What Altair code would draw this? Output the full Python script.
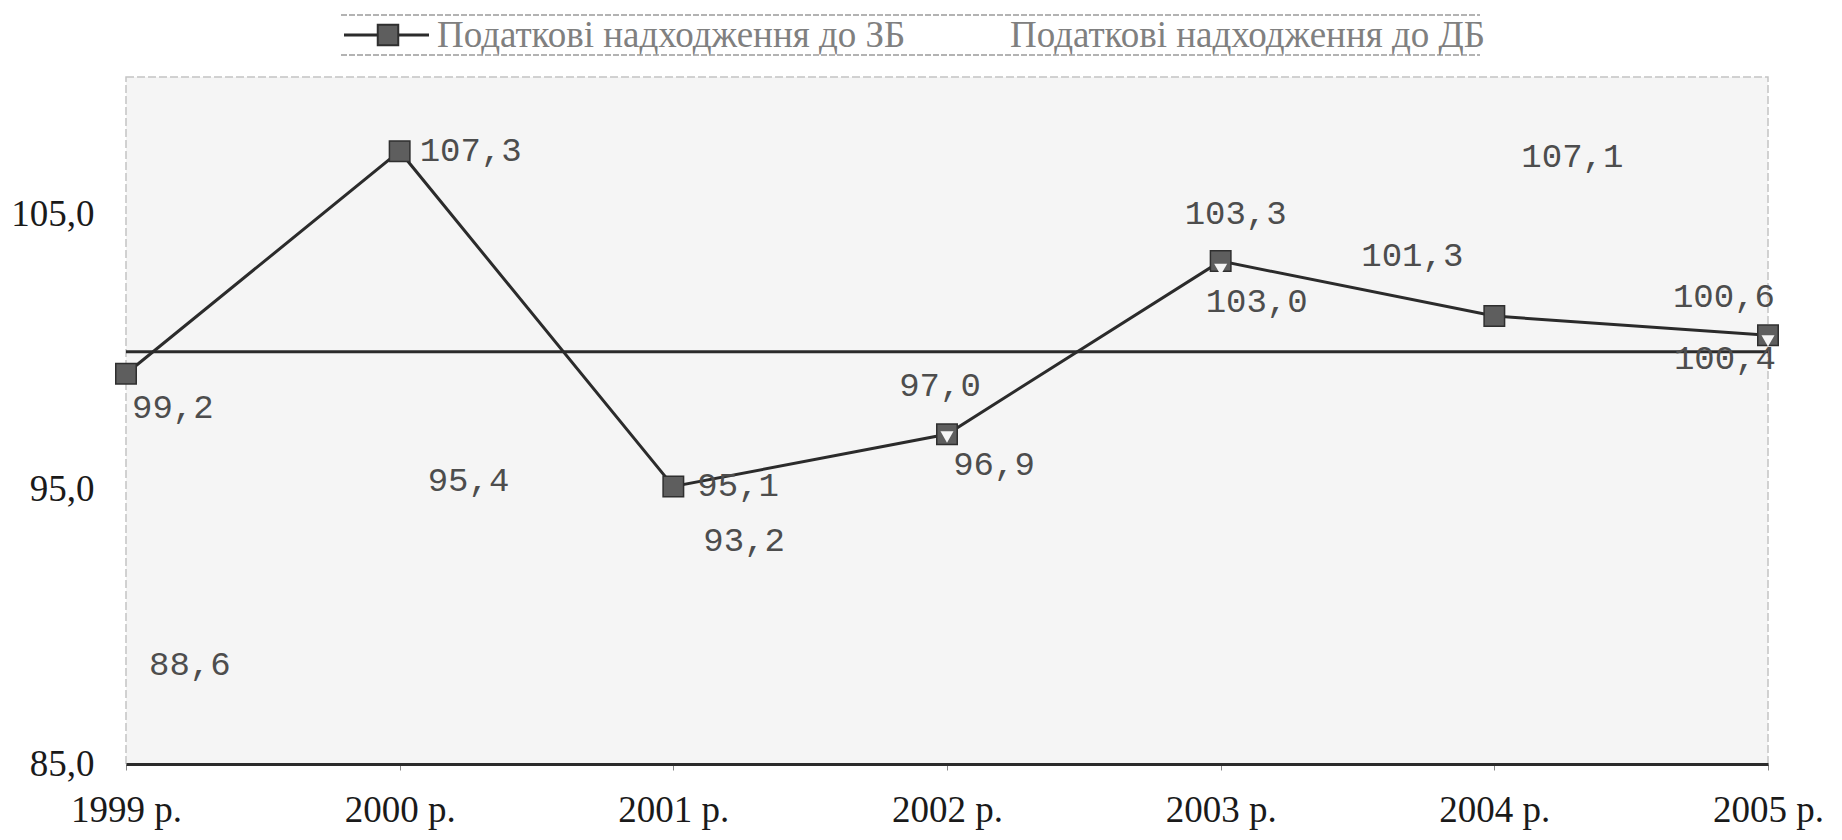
import altair as alt
import pandas as pd

years = ["1999 р.", "2000 р.", "2001 р.", "2002 р.", "2003 р.", "2004 р.", "2005 р."]
zb_values = [99.2, 107.3, 95.1, 97.0, 103.3, 101.3, 100.6]
db_values = [88.6, 95.4, 93.2, 96.9, 103.0, 107.1, 100.4]
series_names = ["Податкові надходження до ЗБ", "Податкові надходження до ДБ"]
y_ticks = [85, 95, 105]
ref_value = [100]

rows = []
for i, y in enumerate(years):
    rows.append({"year": y, "idx": i, "series": "ZB", "v": zb_values[i]})
    rows.append({"year": y, "idx": i, "series": "DB", "v": db_values[i]})
df = pd.DataFrame(rows)

BG = "#f5f5f5"
DARK = "#2b2b2b"
LBL = "#4d4d4d"
SERIF = "Liberation Serif"
MONO = "Liberation Mono"

x_enc = alt.X("year:N", sort=years, scale=alt.Scale(padding=0),
              axis=alt.Axis(title=None, labelAngle=0, labelFont=SERIF, labelFontSize=37,
                            labelColor="#1a1a1a", domainColor=DARK, domainWidth=3,
                            tickColor="#888", tickSize=6, labelPadding=22, grid=False))
y_scale = alt.Scale(domain=[85, 110], nice=False, zero=False)
y_axis = alt.Axis(title=None, values=y_ticks, labelFont=SERIF, labelFontSize=37,
                  labelColor="#1a1a1a", domain=False, ticks=False, grid=False,
                  labelPadding=32,
                  labelExpr="replace(format(datum.value, '.1f'), '.', ',')")
y_enc = alt.Y("v:Q", scale=y_scale, axis=y_axis)

base = alt.Chart(df)

ref = alt.Chart(pd.DataFrame({"v": ref_value})).mark_rule(color=DARK, strokeWidth=3).encode(
    y=y_enc)

zb = base.transform_filter("datum.series == 'ZB'")
db = base.transform_filter("datum.series == 'DB'")

zb_line = zb.mark_line(color=DARK, strokeWidth=3).encode(x=x_enc, y=y_enc)
zb_pts = zb.mark_point(shape="square", filled=True, size=420, fill="#5e5e5e",
                       stroke="#2f2f2f", strokeWidth=1.5, opacity=1).encode(x=x_enc, y=y_enc)
db_pts = db.transform_filter("datum.idx > 0").mark_point(
    shape="triangle-down", filled=True, size=170, fill=BG, opacity=1).encode(x=x_enc, y=y_enc)

offsets = {
    "ZB": [("left", 6, 34), ("left", 20, 0), ("left", 24, 0), ("center", -7, -48),
           ("center", 15, -47), ("center", -82, -60), ("right", 7, -38)],
    "DB": [("left", 23, 0), ("left", 28, 3), ("left", 30, 2), ("center", 47, 28),
           ("center", 36, 33), ("left", 27, 0), ("right", 8, 18)],
}

label_layers = []
for s, lst in offsets.items():
    for i, (al, dx, dy) in enumerate(lst):
        label_layers.append(
            base.transform_filter(f"datum.series == '{s}' && datum.idx == {i}")
            .transform_calculate(lab="replace(format(datum.v, '.1f'), '.', ',')")
            .mark_text(font=MONO, fontSize=34, color=LBL, align=al, baseline="middle",
                       dx=dx, dy=dy)
            .encode(x=x_enc, y=y_enc, text="lab:N")
        )

# custom legend above plot
leg_df = pd.DataFrame({"name": series_names, "k": [0, 1]})
leg_layers = []
for yy in (-62, -22):
    leg_layers.append(alt.Chart(leg_df).transform_filter("datum.k == 0").mark_rule(
        color="#9a9a9a", strokeWidth=1.5, strokeDash=[6, 2]).encode(
        x=alt.value(215), x2=alt.value(1354), y=alt.value(yy)))
leg_layers.append(alt.Chart(leg_df).transform_filter("datum.k == 0").mark_rule(
    color=DARK, strokeWidth=3).encode(x=alt.value(218), x2=alt.value(303), y=alt.value(-42)))
leg_layers.append(alt.Chart(leg_df).transform_filter("datum.k == 0").mark_point(
    shape="square", filled=True, size=420, fill="#5e5e5e", stroke="#2f2f2f",
    opacity=1).encode(x=alt.value(262), y=alt.value(-42)))
for k, xx in ((0, 311), (1, 884)):
    leg_layers.append(alt.Chart(leg_df).transform_filter(f"datum.k == {k}").mark_text(
        font=SERIF, fontSize=37, color="#808080", align="left", baseline="middle").encode(
        x=alt.value(xx), y=alt.value(-41), text="name:N"))

chart = alt.layer(
    ref, zb_line, zb_pts, db_pts, *label_layers, *leg_layers
).properties(
    width=1642, height=687,
    padding={"left": 118, "top": 69, "right": 60, "bottom": 70},
    autosize=alt.AutoSizeParams(type="none"),
    background="white",
).configure_view(fill=BG, stroke="#c4c4c4", strokeDash=[8, 3], strokeWidth=1.5)

chart.save("out.html", embed_options={"renderer": "svg", "actions": False})
